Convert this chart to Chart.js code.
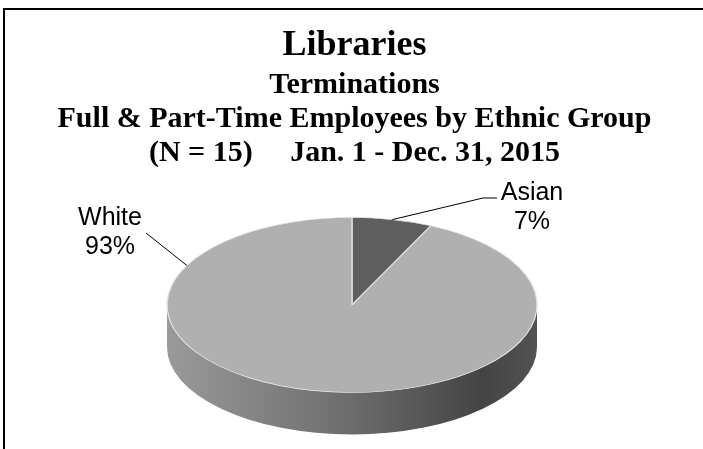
<!DOCTYPE html>
<html>
<head>
<meta charset="utf-8">
<title>Libraries - Terminations 2015</title>
<script src="https://cdn.jsdelivr.net/npm/chart.js@4.4.0/dist/chart.umd.min.js"></script>
<style>
    html, body { margin: 0; padding: 0; background: #fff; overflow: hidden; }
    #wrap { position: relative; width: 703px; height: 449px; overflow: hidden; }
    #frame { position: absolute; left: 3px; top: 8px; width: 760px; height: 500px;
             border-top: 2px solid #000; border-left: 2px solid #000; }
    canvas { position: absolute; left: 0; top: 0; }
</style>
</head>
<body>
<div id="wrap">
    <div id="frame"></div>
    <canvas id="pieChart" width="703" height="449"></canvas>
</div>
<script>
const categories = ['Asian', 'White'];
const shares = [7, 93];
const titleText = 'Libraries';
const subtitleLines = [
    'Terminations',
    'Full & Part-Time Employees by Ethnic Group',
    '(N = 15)     Jan. 1 - Dec. 31, 2015'
];
const topColors = ['#5f5f5f', '#b0b0b0'];

// Ellipse the round pie gets squashed onto, plus the height of the rim
const pie = { cx: 352, cy: 305, rx: 185, ry: 87.5, depth: 42 };

// Label text centre / first baseline, leader bend points, and where the leader
// touches the rim (null = middle of the slice)
const labelSpots = [
    { x: 532, y: 200, leader: [[483, 198], [497, 198]], angle: null },
    { x: 110, y: 225, leader: [[146, 233]], angle: 3.61 }
];

const serif = '"Liberation Serif", "Times New Roman", serif';

document.addEventListener('DOMContentLoaded', function () {
    initializeChart();
});

// Parts of an angle range that face the viewer (lower half of the ellipse)
function frontRanges(a, b) {
    const out = [];
    for (let k = -1; k <= 1; k++) {
        const lo = Math.max(a, k * 2 * Math.PI);
        const hi = Math.min(b, k * 2 * Math.PI + Math.PI);
        if (hi > lo) out.push([lo, hi]);
    }
    return out;
}

// Rim of the pie, then squash the library's own arcs onto the top face
const pie3d = {
    id: 'pie3d',
    beforeDatasetsDraw(chart) {
        const ctx = chart.ctx;
        const arcs = chart.getDatasetMeta(0).data;

        const shade = ctx.createLinearGradient(pie.cx - pie.rx, 0, pie.cx + pie.rx, 0);
        shade.addColorStop(0, '#9a9a9a');
        shade.addColorStop(0.5, '#6c6c6c');
        shade.addColorStop(0.85, '#444444');
        shade.addColorStop(1, '#525252');

        ctx.save();
        ctx.fillStyle = shade;
        arcs.forEach(arc => {
            frontRanges(arc.startAngle, arc.endAngle).forEach(([t1, t2]) => {
                ctx.beginPath();
                ctx.ellipse(pie.cx, pie.cy, pie.rx, pie.ry, 0, t1, t2);
                ctx.ellipse(pie.cx, pie.cy + pie.depth, pie.rx, pie.ry, 0, t2, t1, true);
                ctx.closePath();
                ctx.fill();
            });
        });
        ctx.restore();

        const first = arcs[0];
        ctx.save();
        ctx.translate(pie.cx, pie.cy);
        ctx.scale(pie.rx / first.outerRadius, pie.ry / first.outerRadius);
        ctx.translate(-first.x, -first.y);
    },
    afterDatasetsDraw(chart) {
        chart.ctx.restore();
    }
};

// Category name + percentage with a leader line back to the rim
const pieLabels = {
    id: 'pieLabels',
    afterDraw(chart) {
        const ctx = chart.ctx;
        const arcs = chart.getDatasetMeta(0).data;
        const total = shares.reduce((s, v) => s + v, 0);

        ctx.save();
        ctx.font = '25px "Liberation Sans", Arial, sans-serif';
        ctx.textAlign = 'center';
        ctx.textBaseline = 'alphabetic';
        ctx.fillStyle = '#000';
        ctx.strokeStyle = '#000';
        ctx.lineWidth = 1;
        arcs.forEach((arc, i) => {
            const spot = labelSpots[i];
            const t = spot.angle !== null ? spot.angle : (arc.startAngle + arc.endAngle) / 2;
            ctx.beginPath();
            ctx.moveTo(pie.cx + pie.rx * Math.cos(t), pie.cy + pie.ry * Math.sin(t));
            spot.leader.forEach(([x, y]) => ctx.lineTo(x, y));
            ctx.stroke();
            ctx.fillText(categories[i], spot.x, spot.y);
            ctx.fillText(Math.round(shares[i] / total * 100) + '%', spot.x, spot.y + 29);
        });
        ctx.restore();
    }
};

function initializeChart() {
    const ctx = document.getElementById('pieChart').getContext('2d');
    new Chart(ctx, {
        type: 'pie',
        data: {
            labels: categories,
            datasets: [{
                data: shares,
                backgroundColor: topColors,
                borderColor: '#e2e2e2',
                borderWidth: 1,
                clip: false
            }]
        },
        options: {
            responsive: false,
            animation: false,
            events: [],
            layout: { padding: { left: 6 } },
            plugins: {
                legend: { display: false },
                tooltip: { enabled: false },
                title: {
                    display: true,
                    text: titleText,
                    color: '#000',
                    font: { family: serif, size: 36, weight: 'bold', lineHeight: 1.2 },
                    padding: { top: 24, bottom: 0 }
                },
                subtitle: {
                    display: true,
                    text: subtitleLines,
                    color: '#000',
                    font: { family: serif, size: 30, weight: 'bold', lineHeight: 1.133 },
                    padding: { top: 1, bottom: 0 }
                }
            }
        },
        plugins: [pie3d, pieLabels]
    });
}
</script>
</body>
</html>
